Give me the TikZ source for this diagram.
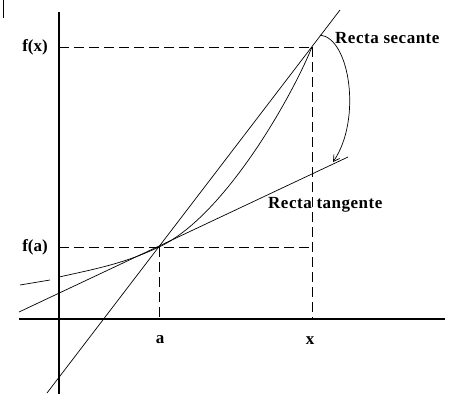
\documentclass[tikz,border=0pt]{standalone}
\usepackage{fontspec}
\setmainfont{Liberation Serif}
\usetikzlibrary{arrows.meta}
\begin{document}
\begin{tikzpicture}[x=1pt,y=-1pt,
  axis/.style={line width=1.1pt},
  thin line/.style={line width=0.7pt},
  guide/.style={line width=0.9pt, dash pattern=on 10pt off 5pt},
  lbl/.style={inner sep=0pt, font=\fontsize{17}{17}\selectfont\bfseries},
  rlbl/.style={inner sep=0pt, font=\fontsize{17}{17}\selectfont\bfseries\addfontfeature{LetterSpace=3}}]
\useasboundingbox (0,0) rectangle (454,394);
% points
\coordinate (A) at (159,247);
\coordinate (X) at (312,47);
\coordinate (yt) at (59,12);
\coordinate (yb) at (59,394);
\coordinate (xl) at (19,319);
\coordinate (xr) at (445,319);
\coordinate (ya) at (59,247);
\coordinate (yx) at (59,47);
\coordinate (xa) at (159,319);
\coordinate (xx) at (312,319);
\coordinate (xfa) at (312,247);
% scan mark
\coordinate (m1) at (3,0);
\coordinate (m2) at (3,18);
\draw[thin line] (m1) -- (m2);
% axes
\draw[axis] (yt) -- (yb);
\draw[axis] (xl) -- (xr);
% guides
\draw[guide] (yx) -- (X);
\draw[guide] (ya) -- (xfa);
\draw[guide] (A) -- (xa);
\draw[guide] (X) -- (xx);
% secant
\coordinate (s1) at (47,393);
\coordinate (s2) at (340,10);
\draw[thin line] (s1) -- (s2);
% tangent
\coordinate (t1) at (19,312);
\coordinate (t2) at (348,157);
\draw[thin line] (t1) -- (t2);
% curve
\coordinate (c0) at (20,285);
\coordinate (c1) at (50,280);
\coordinate (c2) at (59,277);
\draw[thin line] (c0) -- (c1);
\draw[thin line] (c2) .. controls (100,268) and (125,263) .. (A);
\draw[thin line] (A) .. controls (222,218) and (289,103) .. (X);
% arrow
\coordinate (r0) at (320,35);
\coordinate (r1) at (333,162);
\draw[thin line, -{Straight Barb[length=6pt,width=7pt]}] (r0) .. controls (350,38) and (362,120) .. (r1);
% labels
\node[lbl] (lfx) at (35,47) {f(x)};
\node[lbl] (lfa) at (35,247) {f(a)};
\node[lbl] (la) at (160,340) {a};
\node[lbl] (lx) at (310,341) {x};
\node[rlbl, anchor=base west] (lsec) at (335,43) {Recta secante};
\node[rlbl, anchor=base west] (ltan) at (268,208) {Recta tangente};
\end{tikzpicture}
\end{document}
